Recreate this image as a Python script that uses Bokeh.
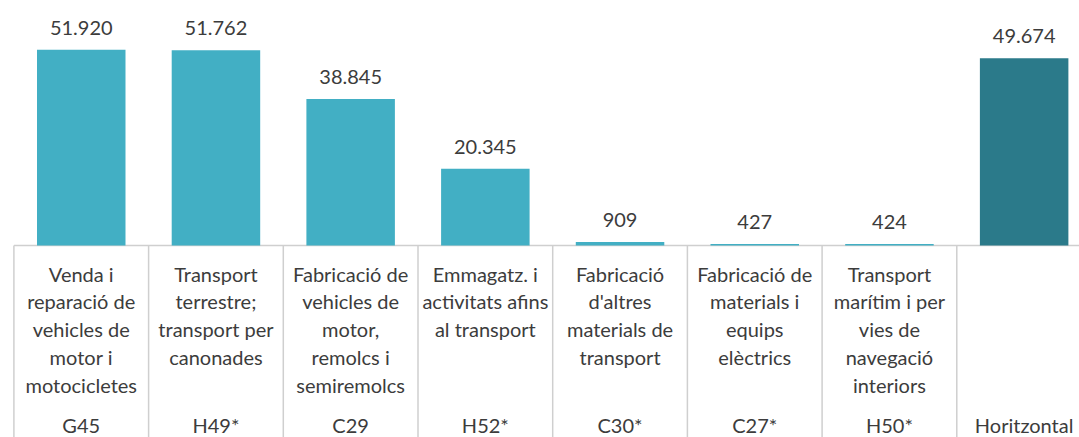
from bokeh.plotting import figure
from bokeh.models import ColumnDataSource, Range1d
from bokeh.core.properties import value
from bokeh.embed import file_html
from bokeh.resources import INLINE

# ---- data ----
descriptions = [
    "Venda i\nreparació de\nvehicles de\nmotor i\nmotocicletes",
    "Transport\nterrestre;\ntransport per\ncanonades",
    "Fabricació de\nvehicles de\nmotor,\nremolcs i\nsemiremolcs",
    "Emmagatz. i\nactivitats afins\nal transport",
    "Fabricació\nd'altres\nmaterials de\ntransport",
    "Fabricació de\nmaterials i\nequips\nelèctrics",
    "Transport\nmarítim i per\nvies de\nnavegació\ninteriors",
    "",
]
codes = ["G45", "H49*", "C29", "H52*", "C30*", "C27*", "H50*", "Horitzontal"]
values = [51920, 51762, 38845, 20345, 909, 427, 424, 49674]

# ---- styling ----
LIGHT = "#42AFC4"
DARK = "#2B7A8A"
TEXT = "#3C3C3C"
GRID = "#CFCFCF"
FONT = value("Lato")

n = len(codes)
xs = list(range(n))
labels = [f"{v:,}".replace(",", ".") for v in values]
colors = [DARK if c == "Horitzontal" else LIGHT for c in codes]

src = ColumnDataSource(dict(x=xs, top=values, label=labels, color=colors,
                            desc=descriptions, code=codes, zero=[0] * n))

y_lo, y_hi = -50928, 64987
p = figure(width=1079, height=437, output_backend="svg", toolbar_location=None,
           x_range=Range1d(-0.5995, 7.411), y_range=Range1d(y_lo, y_hi),
           min_border=0)
p.axis.visible = False
p.grid.visible = False
p.outline_line_color = None
p.background_fill_color = "white"
p.border_fill_color = "white"

# separators and baseline
bx = [i - 0.5 for i in range(n + 1)]
p.segment(x0=bx, y0=[0] * len(bx), x1=bx, y1=[y_lo] * len(bx),
          line_color=GRID, line_width=1.5)
p.segment(x0=[-0.5], y0=[0], x1=[n - 0.5], y1=[0], line_color=GRID, line_width=1.5)

# bars
p.vbar(x="x", top="top", bottom="zero", width=0.657, fill_color="color",
       line_color=None, source=src)

# value labels
p.text(x="x", y="top", text="label", source=src, text_align="center",
       text_baseline="middle", y_offset=-22, text_font=FONT,
       text_font_size="20px", text_color=TEXT)

# description labels
p.text(x="x", y="zero", text="desc", source=src, text_align="center",
       text_baseline="top", y_offset=16, text_font=FONT,
       text_font_size="20px", text_color=TEXT, text_line_height=1.16)

# code labels
p.text(x="x", y="zero", text="code", source=src, text_align="center",
       text_baseline="middle", y_offset=179, text_font=FONT,
       text_font_size="20px", text_color=TEXT)

open("out.html", "w").write(file_html(p, INLINE))
